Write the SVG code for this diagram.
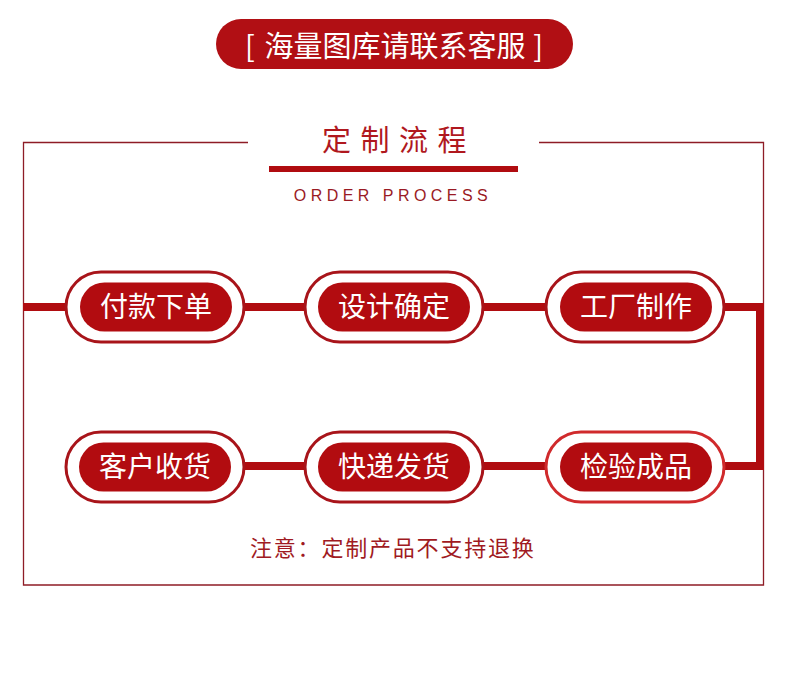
<svg xmlns="http://www.w3.org/2000/svg" width="790" height="680" viewBox="0 0 790 680">
<defs>
<style>
.cjk{font-family:"Noto Sans CJK SC","Noto Sans",sans-serif;}
.outer{fill:#fff;stroke:#a8141a;stroke-width:3;}
.outer2{fill:#fff;stroke:#d02a2c;stroke-width:3;}
.inner{fill:#b20c10;}
.lbl{font-size:28px;fill:#fff;text-anchor:middle;}
.frame{fill:none;stroke:#8e1c26;stroke-width:1.3;}
.conn{fill:none;stroke:#b00c10;stroke-width:8;stroke-linejoin:miter;}
</style>
</defs>
<rect width="790" height="680" fill="#fff"/>
<g id="banner">
<rect x="216" y="19" width="357" height="50" rx="25" fill="#b10f14"/>
<text class="cjk" y="57" font-size="29" fill="#fff"><tspan x="245">[</tspan><tspan x="395" text-anchor="middle">海量图库请联系客服</tspan><tspan x="543" text-anchor="end">]</tspan></text>
</g>
<g id="frame">
<path class="frame" d="M248 142.5 H23.5 V585 H763.5 V142.5 H539"/>
</g>
<g id="title">
<text class="cjk" x="322" y="151" font-size="29" letter-spacing="9.5" fill="#b0181e">定制流程</text>
<rect x="269" y="166" width="249" height="6" fill="#b00c10"/>
<text x="393" y="201" font-family="Liberation Sans, Arial, sans-serif" font-size="16" letter-spacing="4.45" text-anchor="middle" fill="#9a1a24">ORDER PROCESS</text>
</g>
<g id="connectors">
<path class="conn" d="M23 307 H760 V466 H155"/>
</g>
<g id="n1">
<rect class="outer" x="66" y="272" width="178" height="70" rx="35"/>
<rect class="inner" x="80" y="282.5" width="152" height="49" rx="24.5"/>
<text class="cjk lbl" x="156" y="317">付款下单</text>
</g>
<g id="n2">
<rect class="outer" x="305" y="272" width="178" height="70" rx="35"/>
<rect class="inner" x="318" y="282.5" width="152" height="49" rx="24.5"/>
<text class="cjk lbl" x="394" y="317">设计确定</text>
</g>
<g id="n3">
<rect class="outer" x="546" y="272" width="178" height="70" rx="35"/>
<rect class="inner" x="560" y="282.5" width="152" height="49" rx="24.5"/>
<text class="cjk lbl" x="636" y="317">工厂制作</text>
</g>
<g id="n4">
<rect class="outer2" x="546" y="432" width="178" height="70" rx="35"/>
<rect class="inner" x="560" y="442.5" width="152" height="49" rx="24.5"/>
<text class="cjk lbl" x="636" y="477">检验成品</text>
</g>
<g id="n5">
<rect class="outer" x="305" y="432" width="178" height="70" rx="35"/>
<rect class="inner" x="318" y="442.5" width="152" height="49" rx="24.5"/>
<text class="cjk lbl" x="394" y="477">快递发货</text>
</g>
<g id="n6">
<rect class="outer" x="66" y="432" width="178" height="70" rx="35"/>
<rect class="inner" x="79" y="442.5" width="152" height="49" rx="24.5"/>
<text class="cjk lbl" x="155" y="477">客户收货</text>
</g>
<g id="note">
<text class="cjk" x="250" y="556" font-size="22" letter-spacing="1.8" fill="#a01a22">注意：定制产品不支持退换</text>
</g>
</svg>
